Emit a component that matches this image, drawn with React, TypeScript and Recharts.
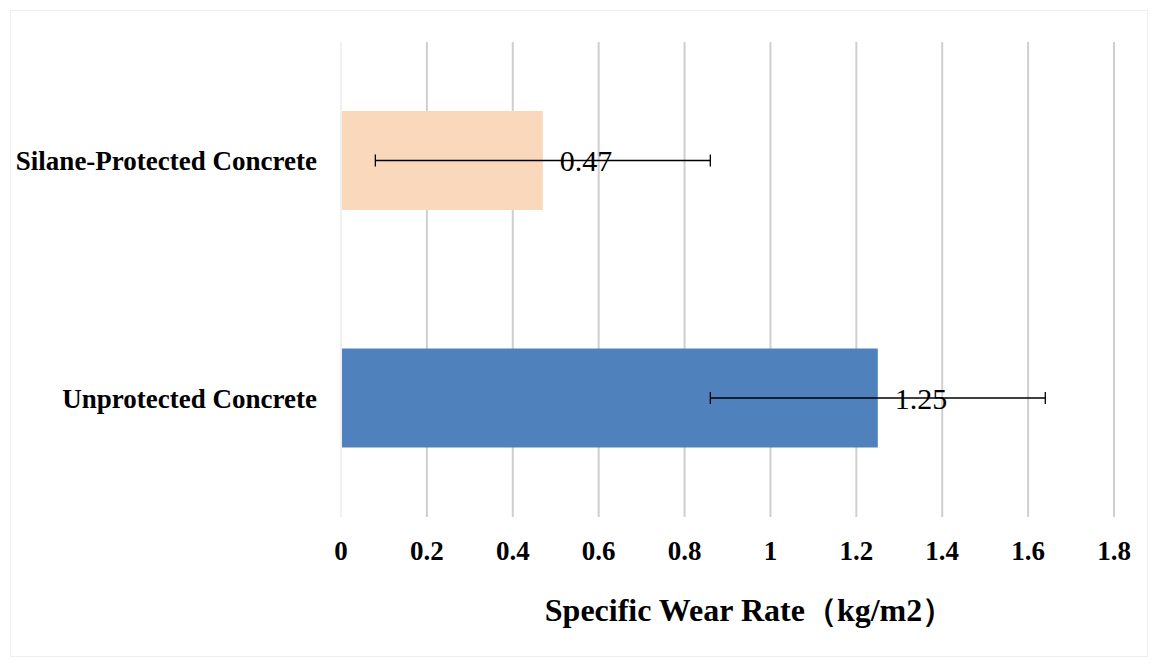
import React from 'react';
import { BarChart, Bar, XAxis, YAxis, CartesianGrid, ErrorBar, LabelList, Cell } from 'recharts';

const categories = ['Silane-Protected Concrete', 'Unprotected Concrete'];
const wearRates = [0.47, 1.25];
const errors = [0.39, 0.39];
const barColors = ['#FAD8BC', '#4F81BD'];
const xTicks = [0, 0.2, 0.4, 0.6, 0.8, 1, 1.2, 1.4, 1.6, 1.8];
const xTitle = 'Specific Wear Rate（kg/m2）';

const data = categories.map((name, i) => ({ name, value: wearRates[i], err: errors[i] }));

const FONT = '"Liberation Serif", "Times New Roman", serif';

const XTitle = (props: any) => {
  const vb = props.viewBox || {};
  const cx = vb.x + vb.width / 2 + 22;
  return (
    <text x={cx} y={610} textAnchor="middle" fontFamily={FONT} fontWeight="bold" fontSize={32} fill="#000">
      {xTitle}
    </text>
  );
};

export default function App() {
  return (
    <div
      style={{
        position: 'absolute',
        left: 10,
        top: 10,
        width: 1138,
        height: 647,
        border: '1px solid #eeeeee',
        boxSizing: 'border-box',
        background: '#fff',
      }}
    >
      <BarChart
        width={1136}
        height={645}
        data={data}
        layout="vertical"
        margin={{ top: 31, right: 33, left: 0, bottom: 0 }}
        barSize={99}
      >
        <CartesianGrid horizontal={false} stroke="#cfcfcf" strokeWidth={2} />
        <XAxis
          type="number"
          domain={[0, 1.8]}
          ticks={xTicks}
          interval={0}
          axisLine={false}
          tickLine={false}
          tickSize={0}
          tickMargin={24}
          height={139}
          tick={{ fontFamily: FONT, fontWeight: 'bold', fontSize: 27, fill: '#000' }}
          label={<XTitle />}
        />
        <YAxis
          type="category"
          dataKey="name"
          width={330}
          axisLine={{ stroke: '#f0f0f0', strokeWidth: 2 }}
          tickLine={false}
          tickSize={0}
          tickMargin={24}
          tick={{ fontFamily: FONT, fontWeight: 'bold', fontSize: 27, fill: '#000' }}
        />
        <Bar dataKey="value" isAnimationActive={false}>
          {data.map((d, i) => (
            <Cell key={d.name} fill={barColors[i]} />
          ))}
          <ErrorBar dataKey="err" direction="x" width={6} stroke="#000" strokeWidth={1.3} isAnimationActive={false} />
          <LabelList
            dataKey="value"
            position="right"
            offset={17}
            style={{ fontFamily: FONT, fontSize: 30, fill: '#000', fontWeight: 'normal' }}
          />
        </Bar>
      </BarChart>
    </div>
  );
}
